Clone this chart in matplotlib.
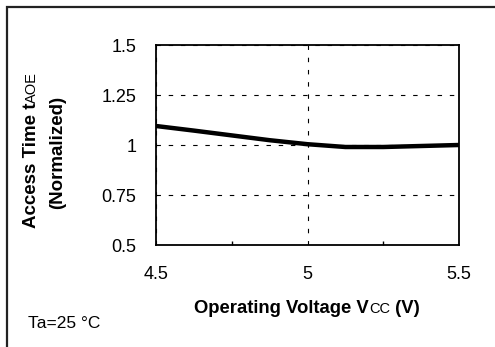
import numpy as np
import matplotlib
matplotlib.use("Agg")
import matplotlib.pyplot as plt
from matplotlib.patches import Rectangle
from matplotlib.transforms import IdentityTransform

plt.rcParams['font.family'] = ['Liberation Sans', 'DejaVu Sans']

# Data
vcc = [4.5, 4.625, 4.75, 4.875, 5.0, 5.125, 5.25, 5.375, 5.5]
taoe = [1.095, 1.072, 1.048, 1.024, 1.004, 0.990, 0.990, 0.995, 1.0]
yticks = [0.5, 0.75, 1.0, 1.25, 1.5]
yticklabels = ['0.5', '0.75', '1', '1.25', '1.5']
xticks = [4.5, 5.0, 5.5]
xticklabels = ['4.5', '5', '5.5']

W, H = 495, 347
fig = plt.figure(figsize=(W / 100, H / 100), dpi=100)
ax = fig.add_axes([156 / W, 1 - 245 / H, 303 / W, 200 / H])

ax.plot(vcc, taoe, color='black', lw=3.2, solid_capstyle='butt', zorder=3)

ax.set_xlim(4.5, 5.5)
ax.set_ylim(0.5, 1.5)
ax.set_xticks(xticks)
ax.set_xticklabels(xticklabels)
ax.set_yticks(yticks)
ax.set_yticklabels(yticklabels)
ax.set_xticks([4.75, 5.25], minor=True)
ax.tick_params(axis='both', which='major', length=0, labelsize=13, pad=14)
ax.tick_params(axis='x', which='major', pad=15)
ax.tick_params(axis='x', which='minor', direction='in', length=3, width=1)
ax.grid(True, which='major', color='black', lw=0.8, linestyle=(0, (4, 7)))
for s in ax.spines.values():
    s.set_linewidth(1.3)

# outer frame (only top/left visible)
fig.patches.append(Rectangle((6.5, -20), 600, H - 6.5 + 20, transform=IdentityTransform(),
                             fill=False, lw=1.6, edgecolor='#222222'))


def pieces(parts, x, y, rot=0):
    # place text runs one after another along the baseline (pixel coords, y from top)
    texts = []
    for s, size, weight in parts:
        texts.append(fig.text(0, 0, s, fontsize=size, fontweight=weight, rotation=rot,
                              rotation_mode='anchor', ha='left', va='baseline',
                              transform=IdentityTransform()))
    r = fig.canvas.get_renderer()
    lens = []
    for t in texts:
        bb = t.get_window_extent(renderer=r)
        lens.append(bb.height if rot else bb.width)
    total = sum(lens)
    pos = -total / 2
    for t, l in zip(texts, lens):
        if rot:
            t.set_position((x, H - y + pos))
        else:
            t.set_position((x + pos, H - y))
        pos += l


pieces([('Operating Voltage V', 13.3, 'bold'), ('CC', 10.5, 'normal'), (' (V)', 13.3, 'bold')],
       307, 313)
pieces([('Access Time t', 13.5, 'bold'), ('AOE', 10.5, 'normal')], 36, 150, rot=90)
pieces([('(Normalized)', 13.5, 'bold')], 62, 152, rot=90)

fig.text(28 / W, 1 - 328 / H, 'Ta=25 °C', fontsize=12.5, va='baseline', ha='left')

fig.savefig('out.png', dpi=100)
